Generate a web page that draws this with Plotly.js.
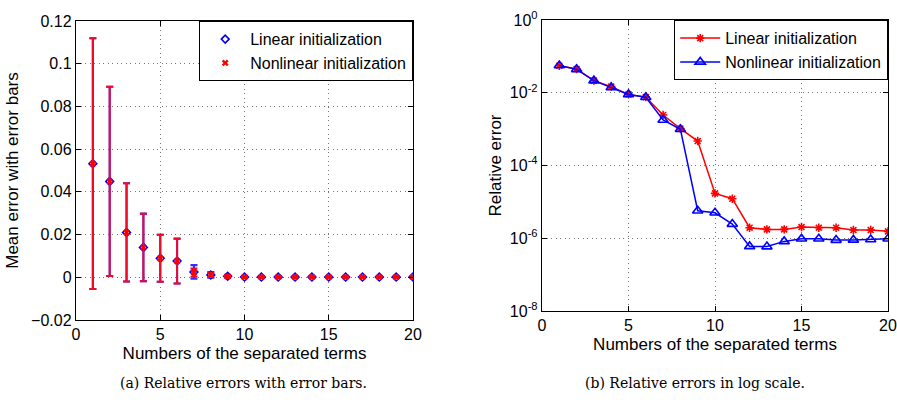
<!DOCTYPE html>
<html>
<head>
<meta charset="utf-8">
<script src="https://cdn.plot.ly/plotly-3.0.1.min.js"></script>
<style>html,body{margin:0;padding:0;background:#fff;}#plot{width:897px;height:411px;}</style>
</head>
<body>
<div id="plot"></div>
<script>
// ---- data ----
const terms = [1,2,3,4,5,6,7,8,9,10,11,12,13,14,15,16,17,18,19,20];
// (a) mean errors and error bar half-widths
const linMean = [0.0532,0.0449,0.0210,0.0140,0.0089,0.0076,0.0025,0.0011,0.0005,0.0001,0.0001,0.0001,0.0001,0.0001,0.0001,0.0001,0.0001,0.0001,0.0001,0.0001];
const linStd  = [0.0587,0.0443,0.0230,0.0158,0.0110,0.0105,0.0032,0.0013,0.0007,0.0002,0.0002,0.0002,0.0002,0.0002,0.0001,0.0001,0.0001,0.0001,0.0001,0.0001];
const nonMean = [0.0532,0.0449,0.0210,0.0140,0.0089,0.0076,0.0022,0.0011,0.0004,0.0001,0.0001,0.0001,0.0001,0.0001,0.0001,0.0001,0.0001,0.0001,0.0001,0.0001];
const nonStd  = [0.0587,0.0443,0.0230,0.0158,0.0110,0.0105,0.0019,0.0010,0.0004,0.0001,0.0001,0.0001,0.0001,0.0001,0.0001,0.0001,0.0001,0.0001,0.0001,0.0001];
// (b) relative errors
const linRel = [0.0555,0.045,0.0215,0.0147,0.0090,0.0076,0.00244,0.00103,0.00047,1.71e-5,1.22e-5,1.95e-6,1.75e-6,1.75e-6,2.03e-6,1.95e-6,1.95e-6,1.68e-6,1.68e-6,1.55e-6];
const nonRel = [0.056,0.044,0.0215,0.014,0.0090,0.0075,0.00178,0.00099,5.7e-6,5.0e-6,2.45e-6,5.97e-7,5.9e-7,8.2e-7,9.7e-7,9.7e-7,8.9e-7,9.0e-7,9.2e-7,9.7e-7];
const seriesNames = ['Linear initialization','Nonlinear initialization'];
const xTicks = [0,5,10,15,20];
const logTickVals = [1e-8,1e-6,1e-4,1e-2,1];
const logTickText = ['10<sup>-8</sup>','10<sup>-6</sup>','10<sup>-4</sup>','10<sup>-2</sup>','10<sup>0</sup>'];
const xTitle = 'Numbers of the separated terms';
const yTitleA = 'Mean error with error bars';
const yTitleB = 'Relative error';
const captionA = '(a) Relative errors with error bars.';
const captionB = '(b) Relative errors in log scale.';

const W = 897, H = 411;
const font = 'Liberation Sans, Arial, sans-serif';

const traces = [
  {x: terms, y: linMean, type:'scatter', mode:'markers', name: seriesNames[0],
   xaxis:'x', yaxis:'y', legend:'legend',
   marker:{symbol:'diamond-open', size:6, color:'#0000ff', line:{width:1.6, color:'#0000ff'}},
   error_y:{type:'data', array: linStd, visible:true, color:'#3a2cff', thickness:2.1, width:3.5}},
  {x: terms, y: nonMean, type:'scatter', mode:'markers', name: seriesNames[1],
   xaxis:'x', yaxis:'y', legend:'legend',
   marker:{symbol:'x', size:6, color:'#ff0000', line:{width:0}},
   error_y:{type:'data', array: nonStd, visible:true, color:'#f00a2a', thickness:2, width:3.5}},
  {x: terms, y: linRel, type:'scatter', mode:'lines+markers', name: seriesNames[0],
   xaxis:'x2', yaxis:'y2', legend:'legend2',
   line:{color:'#ff0000', width:1.5},
   marker:{symbol:'asterisk-open', size:7, color:'#ff0000', line:{width:1.6, color:'#ff0000'}}},
  {x: terms, y: nonRel, type:'scatter', mode:'lines+markers', name: seriesNames[1],
   xaxis:'x2', yaxis:'y2', legend:'legend2',
   line:{color:'#0000ff', width:1.5},
   marker:{symbol:'triangle-up-open', size:9, color:'#0000ff', line:{width:1.6, color:'#0000ff'}}}
];

const axBase = {
  showline:true, linecolor:'#000', linewidth:1.2, mirror:'ticks',
  ticks:'inside', ticklen:5, tickcolor:'#000', tickwidth:1,
  showgrid:true, gridcolor:'#777', griddash:'1px,3.5px', gridwidth:1,
  zeroline:false, tickfont:{family:font, size:16, color:'#000'},
  automargin:false
};

const px = v => v / W, py = v => 1 - v / H;
const titleFont = {family:font, size:17, color:'#000'};
const legFont = {family:font, size:16, color:'#000'};

const layout = {
  width: W, height: H,
  margin:{l:0, r:0, t:0, b:0},
  paper_bgcolor:'#fff', plot_bgcolor:'#fff',
  showlegend:true,
  font:{family:font, color:'#000'},
  xaxis: Object.assign({}, axBase, {domain:[px(76), px(413)], range:[0,20], tickvals:xTicks, anchor:'y',
    title:{text:xTitle, font:titleFont, standoff:4}}),
  yaxis: Object.assign({}, axBase, {domain:[py(320), py(21)], range:[-0.02,0.12], dtick:0.02, tick0:0, anchor:'x',
    title:{text:yTitleA, font:titleFont, standoff:8}}),
  xaxis2: Object.assign({}, axBase, {domain:[px(542), px(888)], range:[0,20], tickvals:xTicks, anchor:'y2',
    title:{text:xTitle, font:titleFont, standoff:4}}),
  yaxis2: Object.assign({}, axBase, {domain:[py(311), py(20)], type:'log', range:[-8,0],
    tickvals:logTickVals, ticktext:logTickText, anchor:'x2',
    title:{text:yTitleB, font:titleFont, standoff:3}}),
  legend:{x:px(413), y:py(21), xanchor:'right', yanchor:'top', bgcolor:'#fff', bordercolor:'#000', borderwidth:1.2,
    font:legFont, tracegroupgap:0, itemwidth:40},
  legend2:{x:px(888), y:py(20), xanchor:'right', yanchor:'top', bgcolor:'#fff', bordercolor:'#000', borderwidth:1.2,
    font:legFont, tracegroupgap:0, itemwidth:40},
  annotations:[
    {text:captionA, xref:'paper', yref:'paper', x:px(243), y:py(383), xanchor:'center', yanchor:'middle', showarrow:false,
     font:{family:'DejaVu Serif, Liberation Serif, serif', size:14, color:'#000'}},
    {text:captionB, xref:'paper', yref:'paper', x:px(695), y:py(383), xanchor:'center', yanchor:'middle', showarrow:false,
     font:{family:'DejaVu Serif, Liberation Serif, serif', size:14, color:'#000'}}
  ]
};

Plotly.newPlot('plot', traces, layout, {displayModeBar:false, staticPlot:true});
</script>
</body>
</html>
